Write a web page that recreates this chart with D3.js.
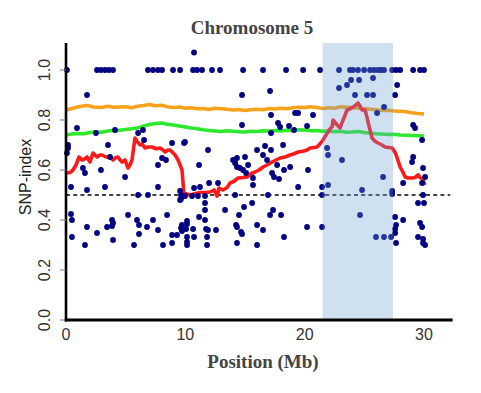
<!DOCTYPE html>
<html>
<head>
<meta charset="utf-8">
<script src="https://cdn.jsdelivr.net/npm/d3@7"></script>
<style>
    body { margin: 0; background: #fff; }
    #chart { width: 481px; height: 393px; }
</style>
</head>
<body>
<div id="chart"></div>
<script>
// SNP-index of single markers, [position (Mb), SNP-index]
const snpPoints = [
    // row at 1.0
    [0.08, 1], [2.6, 1], [2.93, 1], [3.27, 1], [3.6, 1], [3.94, 1], [6.87, 1], [7.29, 1], [7.71, 1],
    [8.05, 1], [8.97, 1], [9.56, 1], [10.65, 1], [10.98, 1], [11.4, 1], [12.24, 1], [12.91, 1],
    [14.84, 1], [16.51, 1], [18.44, 1], [19.87, 1], [21.29, 1], [22.88, 1], [23.8, 1], [24.05, 1],
    [24.47, 1], [24.98, 1], [25.48, 1], [25.82, 1], [26.15, 1], [26.4, 1], [26.65, 1], [27.33, 1],
    [27.66, 1], [28.0, 1], [29.09, 1], [29.67, 1], [30.0, 1],
    [10.73, 1.07],
    // 0 - 10 Mb
    [1.76, 0.90], [0.92, 0.768], [2.51, 0.748], [4.11, 0.76], [6.04, 0.748], [6.45, 0.76],
    [0.17, 0.70], [0.17, 0.688], [0.08, 0.668], [3.52, 0.70], [6.54, 0.72], [8.89, 0.708], [9.89, 0.708],
    [1.42, 0.608], [1.59, 0.588], [2.93, 0.60], [3.69, 0.652], [4.95, 0.572], [7.71, 0.62],
    [8.05, 0.648], [8.38, 0.64], [0.42, 0.532], [1.76, 0.52], [3.27, 0.532], [7.71, 0.532],
    [6.04, 0.50], [6.87, 0.50], [9.64, 0.50], [9.56, 0.516], [9.64, 0.484],
    [0.42, 0.424], [0.5, 0.40], [5.2, 0.42], [8.47, 0.42], [3.86, 0.40], [3.94, 0.388], [3.86, 0.376],
    [5.95, 0.40], [6.12, 0.38], [7.29, 0.40], [1.76, 0.372], [3.44, 0.372], [6.79, 0.372],
    [2.6, 0.348], [7.71, 0.36], [9.72, 0.38], [9.64, 0.368], [9.72, 0.356], [0.5, 0.332],
    [3.94, 0.32], [6.12, 0.344], [8.89, 0.34], [9.3, 0.34], [1.59, 0.30], [5.7, 0.30],
    [8.13, 0.30], [8.89, 0.308],
    // 10 - 21 Mb
    [9.97, 0.712], [11.9, 0.68], [11.15, 0.62], [10.73, 0.528], [11.23, 0.532], [11.99, 0.548],
    [12.74, 0.548], [9.97, 0.496], [10.56, 0.496], [11.06, 0.496], [11.65, 0.496], [9.56, 0.48],
    [11.65, 0.468], [11.65, 0.44], [11.65, 0.40], [11.74, 0.364], [11.9, 0.36], [11.82, 0.332],
    [11.82, 0.30], [10.73, 0.332], [10.65, 0.364], [10.14, 0.396], [10.14, 0.384], [10.06, 0.364],
    [10.14, 0.332], [10.14, 0.312], [10.14, 0.30], [11.15, 0.412], [12.57, 0.36], [13.33, 0.44],
    [14.17, 0.50], [14.25, 0.38], [14.33, 0.372], [14.67, 0.352], [14.75, 0.344], [14.5, 0.42],
    [14.92, 0.452], [15.6, 0.468], [14.33, 0.308], [16.01, 0.38], [16.51, 0.36], [16.01, 0.30],
    [16.93, 0.50], [17.35, 0.44], [17.1, 0.42], [18.02, 0.42], [18.27, 0.332], [20.2, 0.372],
    [14.33, 0.648], [14.17, 0.628], [14.33, 0.612], [14.0, 0.64], [14.58, 0.608], [14.84, 0.60],
    [15.09, 0.588], [15.0, 0.652], [15.26, 0.62], [14.75, 0.90], [17.1, 0.916], [14.75, 0.78],
    [16.01, 0.68], [16.51, 0.66], [17.18, 0.68], [16.85, 0.64], [17.69, 0.62], [18.78, 0.612],
    [18.27, 0.60], [17.27, 0.588], [17.43, 0.572], [17.85, 0.564], [15.67, 0.568], [15.67, 0.54],
    [19.45, 0.532], [20.28, 0.60], [17.18, 0.82], [19.2, 0.828], [19.45, 0.828], [20.7, 0.82],
    [17.77, 0.788], [17.94, 0.772], [18.69, 0.776], [19.11, 0.76], [20.2, 0.776], [17.18, 0.748],
    [16.68, 0.696], [18.19, 0.70],
    // 21 - 30 Mb
    [22.88, 0.928], [23.55, 0.94], [23.89, 0.96], [24.56, 0.96], [25.73, 0.968], [27.75, 0.94],
    [27.58, 0.90], [24.22, 0.90], [25.23, 0.90], [25.73, 0.90], [26.65, 0.852], [26.07, 0.828],
    [21.46, 0.532], [21.96, 0.54], [21.46, 0.50], [24.81, 0.52], [27.33, 0.516], [27.33, 0.504],
    [28.25, 0.548], [29.84, 0.548], [29.92, 0.50], [29.5, 0.468], [30.0, 0.468], [24.64, 0.42],
    [21.46, 0.372], [27.58, 0.412], [28.25, 0.40], [27.66, 0.38], [27.58, 0.364], [27.58, 0.348],
    [27.66, 0.308], [25.98, 0.332], [26.65, 0.332], [27.24, 0.332], [29.67, 0.388], [29.84, 0.372],
    [29.5, 0.332], [29.92, 0.324], [30.09, 0.30], [29.92, 0.308], [21.88, 0.688], [21.96, 0.66],
    [23.13, 0.64], [26.57, 0.572], [29.09, 0.652], [29.0, 0.632], [29.92, 0.608], [30.09, 0.572],
    [29.09, 0.78], [29.25, 0.768], [29.84, 0.72]
];

// sliding window average of the SNP-index
const redLine = [
    [0.08, 0.588], [0.34, 0.59], [0.59, 0.60], [0.84, 0.62], [1.09, 0.652], [1.34, 0.64], [1.59, 0.645],
    [1.76, 0.652], [2.01, 0.632], [2.26, 0.668], [2.6, 0.652], [2.85, 0.66], [3.02, 0.66], [3.35, 0.652],
    [3.69, 0.652], [3.94, 0.64], [4.11, 0.648], [4.36, 0.652], [4.53, 0.64], [4.69, 0.632], [4.95, 0.64],
    [5.2, 0.608], [5.36, 0.62], [5.53, 0.64], [5.7, 0.70], [5.78, 0.728], [5.95, 0.715], [6.2, 0.70],
    [6.37, 0.705], [6.62, 0.688], [6.87, 0.692], [7.21, 0.692], [7.54, 0.685], [7.88, 0.688],
    [8.13, 0.68], [8.3, 0.672], [8.55, 0.68], [8.72, 0.68], [8.97, 0.668], [9.14, 0.66], [9.39, 0.64],
    [9.56, 0.62], [9.72, 0.60], [9.89, 0.50], [10.06, 0.505], [10.39, 0.50], [10.81, 0.505],
    [11.23, 0.51], [11.65, 0.51], [12.07, 0.512], [12.41, 0.52], [12.66, 0.495], [12.82, 0.528],
    [13.16, 0.52], [13.5, 0.53], [13.75, 0.548], [14.08, 0.555], [14.42, 0.568], [14.84, 0.57],
    [15.17, 0.572], [15.5, 0.585], [15.84, 0.592], [16.18, 0.60], [16.51, 0.612], [16.85, 0.62],
    [17.27, 0.632], [17.6, 0.64], [17.94, 0.648], [18.36, 0.652], [18.78, 0.66], [19.11, 0.665],
    [19.45, 0.672], [19.87, 0.675], [20.2, 0.68], [20.45, 0.688], [20.79, 0.69], [21.04, 0.692],
    [21.29, 0.705], [21.54, 0.72], [21.79, 0.74], [21.96, 0.752], [22.13, 0.765], [22.3, 0.772],
    [22.38, 0.80], [22.55, 0.79], [22.72, 0.78], [22.97, 0.768], [23.13, 0.79], [23.22, 0.80],
    [23.39, 0.82], [23.55, 0.84], [23.81, 0.845], [24.05, 0.852], [24.3, 0.86], [24.47, 0.868],
    [24.64, 0.855], [24.81, 0.84], [25.06, 0.84], [25.23, 0.81], [25.31, 0.792], [25.48, 0.76],
    [25.65, 0.728], [25.9, 0.715], [26.15, 0.708], [26.48, 0.70], [26.74, 0.692], [27.07, 0.69],
    [27.33, 0.688], [27.58, 0.67], [27.75, 0.648], [28.0, 0.612], [28.25, 0.59], [28.42, 0.572],
    [28.67, 0.568], [29.0, 0.568], [29.25, 0.57], [29.5, 0.58], [29.67, 0.57], [29.84, 0.565],
    [30.0, 0.55], [30.09, 0.54]
];

// confidence thresholds (99% orange, 95% green)
const orangeLine = [
    [0, 0.84], [0.5, 0.846], [1, 0.852], [1.4, 0.856], [1.8, 0.858], [2.3, 0.852], [3, 0.85],
    [3.5, 0.855], [4, 0.851], [5, 0.853], [5.5, 0.849], [6, 0.855], [6.5, 0.858], [7, 0.862],
    [7.5, 0.857], [8, 0.859], [8.5, 0.853], [9, 0.85], [9.5, 0.852], [10, 0.847], [10.5, 0.849],
    [11, 0.845], [11.5, 0.846], [12, 0.842], [12.5, 0.847], [13, 0.845], [13.5, 0.843], [14, 0.84],
    [14.5, 0.842], [15, 0.838], [15.5, 0.841], [16, 0.843], [16.5, 0.841], [17, 0.846], [17.5, 0.844],
    [18, 0.847], [18.5, 0.845], [19, 0.849], [19.5, 0.851], [20, 0.85], [20.5, 0.853], [21, 0.85],
    [21.5, 0.846], [22, 0.849], [22.5, 0.847], [23, 0.853], [23.5, 0.851], [24, 0.849], [24.5, 0.847],
    [25, 0.845], [25.5, 0.843], [26, 0.841], [26.5, 0.838], [27, 0.839], [27.5, 0.836], [28, 0.835],
    [28.5, 0.833], [29, 0.829], [29.5, 0.826], [30, 0.824]
];
const greenLine = [
    [0, 0.74], [0.5, 0.744], [1, 0.746], [1.5, 0.745], [2, 0.75], [2.5, 0.752], [3, 0.751],
    [3.7, 0.758], [4.2, 0.757], [5, 0.762], [5.5, 0.765], [6, 0.768], [6.5, 0.776], [7, 0.782],
    [7.5, 0.786], [8, 0.788], [8.5, 0.783], [9, 0.78], [9.5, 0.776], [10, 0.772], [10.5, 0.768],
    [11, 0.765], [11.5, 0.761], [12, 0.758], [12.5, 0.756], [13, 0.754], [13.5, 0.757], [14, 0.755],
    [14.5, 0.753], [15, 0.752], [15.5, 0.755], [16, 0.754], [16.5, 0.757], [17, 0.756], [17.5, 0.758],
    [18, 0.756], [18.5, 0.759], [19, 0.758], [19.5, 0.761], [20, 0.76], [20.5, 0.757], [21, 0.758],
    [21.5, 0.755], [22, 0.756], [22.5, 0.753], [23, 0.755], [23.5, 0.751], [24, 0.752], [24.5, 0.754],
    [25, 0.75], [25.5, 0.747], [26, 0.745], [26.5, 0.744], [27, 0.742], [27.5, 0.743], [28, 0.74],
    [28.5, 0.739], [29, 0.738], [29.5, 0.737], [30, 0.736]
];

// candidate region and axis ticks
const regionMb = [21.5, 27.4];
const xTicks = [0, 10, 20, 30];
const yTicks = [0, 0.2, 0.4, 0.6, 0.8, 1.0];
const baseline = 0.5;

class SnpIndexPlot {
    constructor(parentElement) {
        this.parentElement = parentElement;
        this.initVis();
    }

    initVis() {
        const vis = this;

        vis.width = 481;
        vis.height = 393;

        vis.svg = d3.select("#" + vis.parentElement)
            .append("svg")
            .attr("width", vis.width)
            .attr("height", vis.height);

        vis.x = d3.scaleLinear().domain([0, 30]).range([66, 424]);
        vis.y = d3.scaleLinear().domain([0, 1]).range([320, 70]);

        vis.xMax = 32.4;
        vis.yMax = 1.108;

        vis.drawMarks();
        vis.drawAxes();
        vis.drawLabels();
    }

    drawMarks() {
        const vis = this;

        // dashed 0.5 reference line
        vis.svg.append("line")
            .attr("x1", vis.x(0))
            .attr("x2", vis.x(32.2))
            .attr("y1", vis.y(baseline))
            .attr("y2", vis.y(baseline))
            .attr("stroke", "#444")
            .attr("stroke-width", 2)
            .attr("stroke-dasharray", "4,3.2");

        const line = d3.line()
            .x(d => vis.x(d[0]))
            .y(d => vis.y(d[1]));

        const series = [
            { data: orangeLine, color: "#f7a21b", w: 3.4 },
            { data: greenLine, color: "#2ee82e", w: 3.4 },
            { data: redLine, color: "#ff1a1a", w: 3.6 }
        ];

        vis.svg.selectAll(".trend")
            .data(series)
            .join("path")
            .attr("class", "trend")
            .attr("d", d => line(d.data))
            .attr("fill", "none")
            .attr("stroke", d => d.color)
            .attr("stroke-width", d => d.w)
            .attr("stroke-linejoin", "round");

        vis.svg.selectAll(".snp")
            .data(snpPoints)
            .join("circle")
            .attr("class", "snp")
            .attr("cx", d => vis.x(d[0]))
            .attr("cy", d => vis.y(d[1]))
            .attr("r", 2.9)
            .attr("fill", "#000080");

        // shaded candidate region sits on top of everything, semi transparent
        vis.svg.append("rect")
            .attr("x", vis.x(regionMb[0]))
            .attr("width", vis.x(regionMb[1]) - vis.x(regionMb[0]))
            .attr("y", vis.y(vis.yMax))
            .attr("height", vis.y(0) - vis.y(vis.yMax))
            .attr("fill", "rgb(105,160,212)")
            .attr("fill-opacity", 0.32);
    }

    drawAxes() {
        const vis = this;

        // y axis with rotated labels (R style)
        const yAxis = vis.svg.append("g");
        yAxis.append("line")
            .attr("x1", vis.x(0)).attr("x2", vis.x(0))
            .attr("y1", vis.y(vis.yMax)).attr("y2", vis.y(0) + 1.5)
            .attr("stroke", "#000").attr("stroke-width", 2.6);

        yAxis.selectAll(".ytick")
            .data(yTicks)
            .join("line")
            .attr("class", "ytick")
            .attr("x1", vis.x(0) - 6).attr("x2", vis.x(0))
            .attr("y1", d => vis.y(d)).attr("y2", d => vis.y(d))
            .attr("stroke", "#777").attr("stroke-width", 1);

        yAxis.selectAll(".ylab")
            .data(yTicks)
            .join("text")
            .attr("class", "ylab")
            .attr("transform", d => `translate(50,${vis.y(d)}) rotate(-90)`)
            .attr("text-anchor", "middle")
            .style("font", "16px 'Liberation Sans', Arial, sans-serif")
            .style("fill", "#333")
            .text(d => d.toFixed(1));

        // x axis
        const xAxis = vis.svg.append("g");
        xAxis.append("line")
            .attr("x1", vis.x(0) - 1.3).attr("x2", vis.x(vis.xMax))
            .attr("y1", vis.y(0)).attr("y2", vis.y(0))
            .attr("stroke", "#000").attr("stroke-width", 3);

        xAxis.selectAll(".xlab")
            .data(xTicks)
            .join("text")
            .attr("class", "xlab")
            .attr("x", d => vis.x(d))
            .attr("y", 340)
            .attr("text-anchor", "middle")
            .style("font", "16px 'Liberation Sans', Arial, sans-serif")
            .style("fill", "#333")
            .text(d => d);
    }

    drawLabels() {
        const vis = this;

        vis.svg.append("text")
            .attr("x", 252)
            .attr("y", 34)
            .attr("text-anchor", "middle")
            .style("font", "bold 19px 'Liberation Serif', 'Times New Roman', serif")
            .style("fill", "#444")
            .text("Chromosome 5");

        vis.svg.append("text")
            .attr("x", 263)
            .attr("y", 368)
            .attr("text-anchor", "middle")
            .style("font", "bold 19px 'Liberation Serif', 'Times New Roman', serif")
            .style("fill", "#444")
            .text("Position (Mb)");

        vis.svg.append("text")
            .attr("transform", "translate(31,177) rotate(-90)")
            .attr("text-anchor", "middle")
            .style("font", "16px 'Liberation Sans', Arial, sans-serif")
            .style("fill", "#222")
            .text("SNP-index");
    }
}

new SnpIndexPlot("chart");
</script>
</body>
</html>
